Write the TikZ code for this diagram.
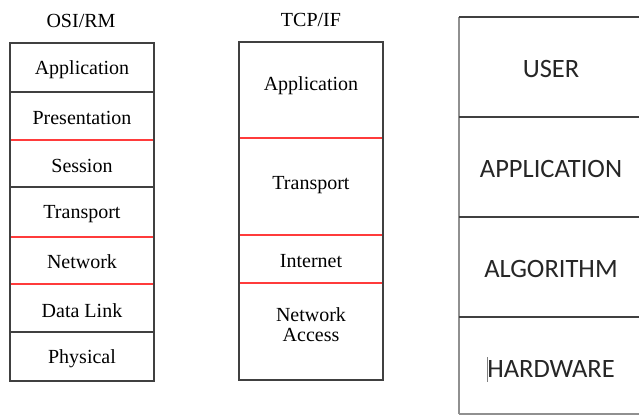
\documentclass[tikz,border=0pt]{standalone}
\usepackage{fontspec}
\setmainfont{Liberation Serif}
\newfontfamily\calfont{Carlito}
\definecolor{linegray}{HTML}{404040}
\definecolor{redline}{HTML}{FF3B3B}
\definecolor{leftgray}{HTML}{909090}
\tikzset{
  frame/.style={draw=linegray, line width=1.4pt},
  redsep/.style={draw=redline, line width=1.4pt},
  blacksep/.style={draw=linegray, line width=1.4pt},
  layertext/.style={font=\fontsize{20}{21}\selectfont, inner sep=0pt, align=center},
  titletext/.style={font=\fontsize{20}{22}\selectfont, inner sep=0pt},
  captext/.style={font=\calfont\fontsize{26.5}{28}\selectfont, inner sep=0pt, text=black!85},
}
\begin{document}
\begin{tikzpicture}[x=1pt,y=-1pt]
\useasboundingbox (0,0) rectangle (639,416);
% OSI/RM
\node[titletext] (osititle) at (81,21) {OSI/RM};
\coordinate (o1) at (10,43); \coordinate (o2) at (154,381);
\draw[blacksep] (10,92) -- (154,92);
\draw[redsep] (10,140) -- (154,140);
\draw[blacksep] (10,187) -- (154,187);
\draw[redsep] (10,237) -- (154,237);
\draw[redsep] (10,284) -- (154,284);
\draw[blacksep] (10,332) -- (154,332);
\draw[frame] (o1) rectangle (o2);
\node[layertext] (oapp) at (82,70) {Application};
\node[layertext] (opre) at (82,118) {Presentation};
\node[layertext] (oses) at (82,166) {Session};
\node[layertext] (otra) at (82,214) {Transport};
\node[layertext] (onet) at (82,262) {Network};
\node[layertext] (odl) at (82,311) {Data Link};
\node[layertext] (ophy) at (82,359) {Physical};
% TCP/IP
\node[titletext] (tcptitle) at (311,20) {TCP/IF};
\coordinate (t1) at (239,42); \coordinate (t2) at (383,380);
\draw[redsep] (239,138) -- (383,138);
\draw[redsep] (239,235) -- (383,235);
\draw[redsep] (239,283) -- (383,283);
\draw[frame] (t1) rectangle (t2);
\node[layertext] (tapp) at (311,86) {Application};
\node[layertext] (ttra) at (311,185) {Transport};
\node[layertext] (tint) at (311,261) {Internet};
\node[layertext] (tna) at (311,325) {Network\\[-1pt]Access};
% Right stack
\draw[draw=leftgray, line width=1.2pt] (459,17) -- (459,414);
\draw[blacksep] (459,17) -- (639,17);
\draw[blacksep] (459,117) -- (639,117);
\draw[blacksep] (459,217) -- (639,217);
\draw[blacksep] (459,317) -- (639,317);
\draw[draw=leftgray, line width=1.2pt] (459,414) -- (639,414);
\node[captext] (user) at (551,69) {USER};
\node[captext] (appl) at (551,169) {APPLICATION};
\node[captext] (algo) at (551,269) {ALGORITHM};
\node[captext] (hw) at (551,369) {HARDWARE};
\draw[draw=gray, line width=0.8pt] (487,357) -- (487,382);
\end{tikzpicture}
\end{document}
